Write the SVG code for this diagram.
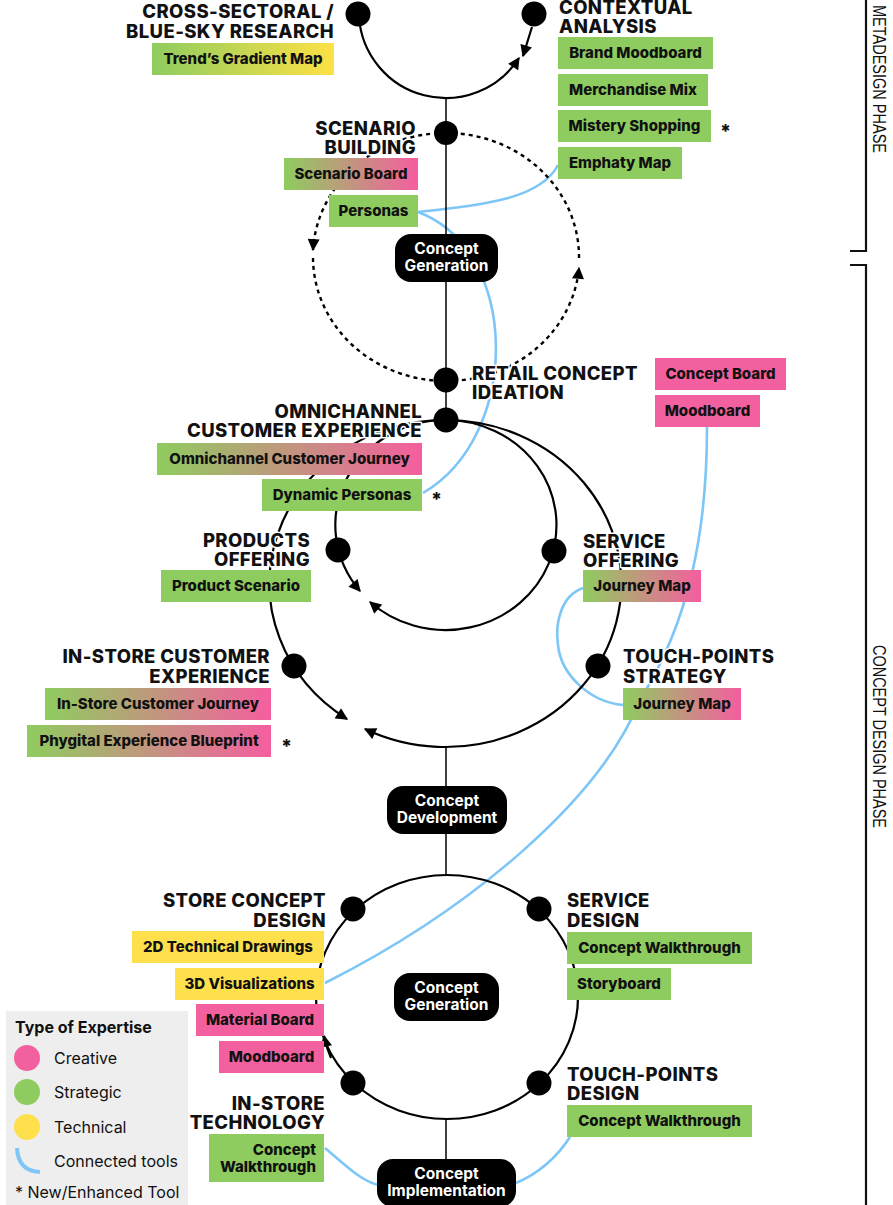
<svg xmlns="http://www.w3.org/2000/svg" width="893" height="1205" viewBox="0 0 893 1205">
<style>
.bg{fill:#fff}
.blk{fill:none;stroke:#000;stroke-width:2.2}
.vl{fill:none;stroke:#000;stroke-width:1.5}
.dash{fill:none;stroke:#000;stroke-width:2.4;stroke-dasharray:4 4}
.blue{fill:none;stroke:#7DC6F7;stroke-width:2.6}
.dot{fill:#000}
.lbl{font-family:Inter,"Liberation Sans",sans-serif;font-weight:800;font-size:18.5px;fill:#111;stroke:#fff;stroke-width:3;paint-order:stroke;stroke-linejoin:round;letter-spacing:0.4px}
.bt{font-family:Inter,"Liberation Sans",sans-serif;font-weight:800;font-size:15px;fill:#111;text-anchor:middle}
.ct{font-family:Inter,"Liberation Sans",sans-serif;font-weight:700;font-size:15.5px;fill:#fff;text-anchor:middle}
.g{fill:#8FCC5F}
.p{fill:#F3609F}
.y{fill:#FDE04C}
.gp{fill:url(#gp)}
.gy{fill:url(#gy)}
.cb{fill:#000}
.ast{font-family:Inter,"Liberation Sans",sans-serif;font-weight:800;font-size:19px;fill:#111}
.lg{font-family:Inter,"Liberation Sans",sans-serif;font-size:16px;fill:#111}
.ph{font-family:"Liberation Sans",Arial,sans-serif;font-size:19px;fill:#111}
.br{fill:none;stroke:#111;stroke-width:2.2}
</style>
<defs>
<linearGradient id="gp" x1="0" y1="0" x2="1" y2="0"><stop offset="0" stop-color="#8FCC5F"/><stop offset="1" stop-color="#F55E9F"/></linearGradient>
<linearGradient id="gy" x1="0" y1="0" x2="1" y2="0"><stop offset="0" stop-color="#8FCC5F"/><stop offset="1" stop-color="#FDE145"/></linearGradient>
<marker id="ah" viewBox="0 0 10 10" refX="9" refY="5" markerWidth="13" markerHeight="12" markerUnits="userSpaceOnUse" orient="auto"><path d="M0,0 L10,5 L0,10 z" fill="#000"/></marker>
</defs>
<rect class="bg" x="0" y="0" width="893" height="1205"/>

<g id="connectors">
  <path class="blue" d="M418,212 C480,205 540,200 558,165"/>
  <path class="blue" d="M418,212 C520,250 522,435 423,493"/>
  <path class="blue" d="M707,427 C707,530 690,620 640,700 C600,800 470,910 325,983"/>
  <path class="blue" d="M583,588 C560,596 555,625 558,645 C561,675 590,702 623,705"/>
  <path class="blue" d="M325,1148 C345,1165 360,1180 378,1185"/>
  <path class="blue" d="M570,1137 C555,1160 535,1175 516,1183"/>
  <path class="vl" d="M446,97 L446,420"/>
  <path class="vl" d="M446,747 L446,875"/>
  <path class="vl" d="M446,1119 L446,1160"/>
  <path class="blk" d="M359,17 A87,87 0 0 0 519,58" marker-end="url(#ah)"/>
  <path class="blk" d="M532,27 L523,56" marker-end="url(#ah)"/>
  <path class="dash" d="M446,133 A133,124 0 0 0 313,250" marker-end="url(#ah)"/>
  <path class="dash" d="M313,258 A133,124 0 0 0 446,381"/>
  <path class="dash" d="M446,381 A133,124 0 0 0 579,268" marker-end="url(#ah)"/>
  <path class="dash" d="M579,258 A133,124 0 0 0 446,133"/>
  <path class="blk" d="M446,420 A111,105 0 0 0 360,591" marker-end="url(#ah)"/>
  <path class="blk" d="M446,420 A111,105 0 1 1 370,602" marker-end="url(#ah)"/>
  <path class="blk" d="M446,420 A176,163.5 0 0 0 347,719" marker-end="url(#ah)"/>
  <path class="blk" d="M446,420 A176,163.5 0 1 1 365,729" marker-end="url(#ah)"/>
  <ellipse class="blk" cx="447" cy="997" rx="131" ry="122"/>
  <path class="blk" d="M331,1058 A131,122 0 0 1 324,1036" marker-end="url(#ah)"/>
</g>

<g id="phases">
  <path class="br" d="M866,-2 L866,251 L850,251"/>
  <path class="br" d="M850,265 L866,265 L866,1207"/>
  <text class="ph" transform="translate(873,5) rotate(90)" textLength="148" lengthAdjust="spacingAndGlyphs">METADESIGN PHASE</text>
  <text class="ph" transform="translate(873,645) rotate(90)" textLength="183" lengthAdjust="spacingAndGlyphs">CONCEPT DESIGN PHASE</text>
</g>

<g id="cross-sectoral">
  <circle class="dot" cx="358" cy="14" r="12.5"/>
  <text class="lbl" text-anchor="end" x="334" y="18">CROSS-SECTORAL /<tspan x="334" dy="20">BLUE-SKY RESEARCH</tspan></text>
  <rect class="gy" x="152" y="43" width="182" height="32"/>
  <text class="bt" x="243" y="64">Trend’s Gradient Map</text>
</g>

<g id="contextual">
  <circle class="dot" cx="534" cy="14" r="12.5"/>
  <text class="lbl" x="559" y="13.5">CONTEXTUAL<tspan x="559" dy="19">ANALYSIS</tspan></text>
  <rect class="g" x="558" y="37" width="155" height="32"/>
  <text class="bt" x="635.5" y="58">Brand Moodboard</text>
  <rect class="g" x="558" y="74" width="150" height="32"/>
  <text class="bt" x="633" y="95">Merchandise Mix</text>
  <rect class="g" x="558" y="110" width="153" height="32"/>
  <text class="bt" x="634.5" y="131">Mistery Shopping</text>
  <text class="ast" x="720" y="138">*</text>
  <rect class="g" x="558" y="147" width="124" height="32"/>
  <text class="bt" x="620" y="168">Emphaty Map</text>
</g>

<g id="scenario">
  <circle class="dot" cx="446" cy="133" r="12"/>
  <text class="lbl" text-anchor="end" x="416" y="135">SCENARIO<tspan x="416" dy="19">BUILDING</tspan></text>
  <rect class="gp" x="284" y="158" width="134" height="32"/>
  <text class="bt" x="351" y="179">Scenario Board</text>
  <rect class="g" x="329" y="195" width="89" height="32"/>
  <text class="bt" x="373.5" y="216">Personas</text>
</g>

<g id="concept-generation-1">
  <rect class="cb" x="395" y="234" width="103" height="48" rx="16"/>
  <text class="ct" x="446.5" y="254">Concept<tspan x="446.5" dy="17">Generation</tspan></text>
</g>

<g id="retail">
  <circle class="dot" cx="446" cy="380" r="12.5"/>
  <text class="lbl" x="472" y="380">RETAIL CONCEPT<tspan x="472" dy="19">IDEATION</tspan></text>
  <rect class="p" x="655" y="358" width="131" height="32"/>
  <text class="bt" x="720.5" y="379">Concept Board</text>
  <rect class="p" x="655" y="395" width="105" height="32"/>
  <text class="bt" x="707.5" y="416">Moodboard</text>
</g>

<g id="omnichannel">
  <circle class="dot" cx="446" cy="420" r="12.5"/>
  <text class="lbl" text-anchor="end" x="422" y="418">OMNICHANNEL<tspan x="422" dy="19">CUSTOMER EXPERIENCE</tspan></text>
  <rect class="gp" x="157" y="443" width="265" height="32"/>
  <text class="bt" x="289.5" y="464">Omnichannel Customer Journey</text>
  <rect class="g" x="262" y="479" width="160" height="32"/>
  <text class="bt" x="342" y="500">Dynamic Personas</text>
  <text class="ast" x="431" y="506">*</text>
</g>

<g id="products">
  <circle class="dot" cx="338" cy="550" r="12.5"/>
  <text class="lbl" text-anchor="end" x="310" y="547">PRODUCTS<tspan x="310" dy="19">OFFERING</tspan></text>
  <rect class="g" x="161" y="570" width="150" height="32"/>
  <text class="bt" x="236" y="591">Product Scenario</text>
</g>

<g id="service-offering">
  <circle class="dot" cx="554" cy="551" r="12.5"/>
  <text class="lbl" x="583" y="548">SERVICE<tspan x="583" dy="19">OFFERING</tspan></text>
  <rect class="gp" x="583" y="570" width="118" height="32"/>
  <text class="bt" x="642" y="591">Journey Map</text>
</g>

<g id="instore-experience">
  <circle class="dot" cx="294" cy="666" r="12.5"/>
  <text class="lbl" text-anchor="end" x="270" y="663">IN-STORE CUSTOMER<tspan x="270" dy="20">EXPERIENCE</tspan></text>
  <rect class="gp" x="45" y="688" width="226" height="32"/>
  <text class="bt" x="158" y="709">In-Store Customer Journey</text>
  <rect class="gp" x="27" y="725" width="244" height="32"/>
  <text class="bt" x="149" y="746">Phygital Experience Blueprint</text>
  <text class="ast" x="281" y="753">*</text>
</g>

<g id="touchpoints-strategy">
  <circle class="dot" cx="598" cy="666" r="12.5"/>
  <text class="lbl" x="623" y="663">TOUCH-POINTS<tspan x="623" dy="20">STRATEGY</tspan></text>
  <rect class="gp" x="623" y="688" width="118" height="32"/>
  <text class="bt" x="682" y="709">Journey Map</text>
</g>

<g id="concept-development">
  <rect class="cb" x="387" y="786" width="120" height="48" rx="16"/>
  <text class="ct" x="447" y="806">Concept<tspan x="447" dy="17">Development</tspan></text>
</g>

<g id="store-concept">
  <circle class="dot" cx="353" cy="909" r="12.5"/>
  <text class="lbl" text-anchor="end" x="326" y="907">STORE CONCEPT<tspan x="326" dy="20">DESIGN</tspan></text>
  <rect class="y" x="132" y="931" width="192" height="32"/>
  <text class="bt" x="228" y="952">2D Technical Drawings</text>
  <rect class="y" x="175" y="968" width="149" height="32"/>
  <text class="bt" x="249.5" y="989">3D Visualizations</text>
  <rect class="p" x="196" y="1004" width="128" height="32"/>
  <text class="bt" x="260" y="1025">Material Board</text>
  <rect class="p" x="219" y="1041" width="105" height="32"/>
  <text class="bt" x="271.5" y="1062">Moodboard</text>
</g>

<g id="service-design">
  <circle class="dot" cx="539" cy="909" r="12.5"/>
  <text class="lbl" x="567" y="907">SERVICE<tspan x="567" dy="20">DESIGN</tspan></text>
  <rect class="g" x="567" y="932" width="185" height="32"/>
  <text class="bt" x="659.5" y="953">Concept Walkthrough</text>
  <rect class="g" x="567" y="968" width="104" height="32"/>
  <text class="bt" x="619" y="989">Storyboard</text>
</g>

<g id="concept-generation-2">
  <rect class="cb" x="394" y="973" width="105" height="48" rx="16"/>
  <text class="ct" x="446.5" y="993">Concept<tspan x="446.5" dy="17">Generation</tspan></text>
</g>

<g id="instore-technology">
  <circle class="dot" cx="353" cy="1083" r="12.5"/>
  <text class="lbl" text-anchor="end" x="325" y="1110">IN-STORE<tspan x="325" dy="19">TECHNOLOGY</tspan></text>
  <rect class="g" x="209" y="1134" width="115" height="48"/>
  <text class="bt" style="text-anchor:end" x="316" y="1155">Concept<tspan x="316" dy="17">Walkthrough</tspan></text>
</g>

<g id="touchpoints-design">
  <circle class="dot" cx="539" cy="1083" r="12.5"/>
  <text class="lbl" x="567" y="1081">TOUCH-POINTS<tspan x="567" dy="19">DESIGN</tspan></text>
  <rect class="g" x="567" y="1105" width="185" height="32"/>
  <text class="bt" x="659.5" y="1126">Concept Walkthrough</text>
</g>

<g id="concept-implementation">
  <rect class="cb" x="377" y="1159" width="139" height="48" rx="16"/>
  <text class="ct" x="446.5" y="1179">Concept<tspan x="446.5" dy="17">Implementation</tspan></text>
</g>

<g id="legend">
  <rect x="6" y="1011" width="182" height="200" fill="#EEEEEE"/>
  <text class="lg" style="font-weight:700" x="15" y="1033">Type of Expertise</text>
  <circle cx="27" cy="1058" r="13" fill="#F3609F"/>
  <text class="lg" x="54" y="1064">Creative</text>
  <circle cx="27" cy="1092" r="13" fill="#8FCC5F"/>
  <text class="lg" x="54" y="1098">Strategic</text>
  <circle cx="27" cy="1127" r="13" fill="#FDE04C"/>
  <text class="lg" x="54" y="1133">Technical</text>
  <path d="M17,1148 Q18,1171 40,1172" fill="none" stroke="#7DC6F7" stroke-width="4"/>
  <text class="lg" x="54" y="1167">Connected tools</text>
  <text class="lg" x="15" y="1198">* New/Enhanced Tool</text>
</g>
</svg>
